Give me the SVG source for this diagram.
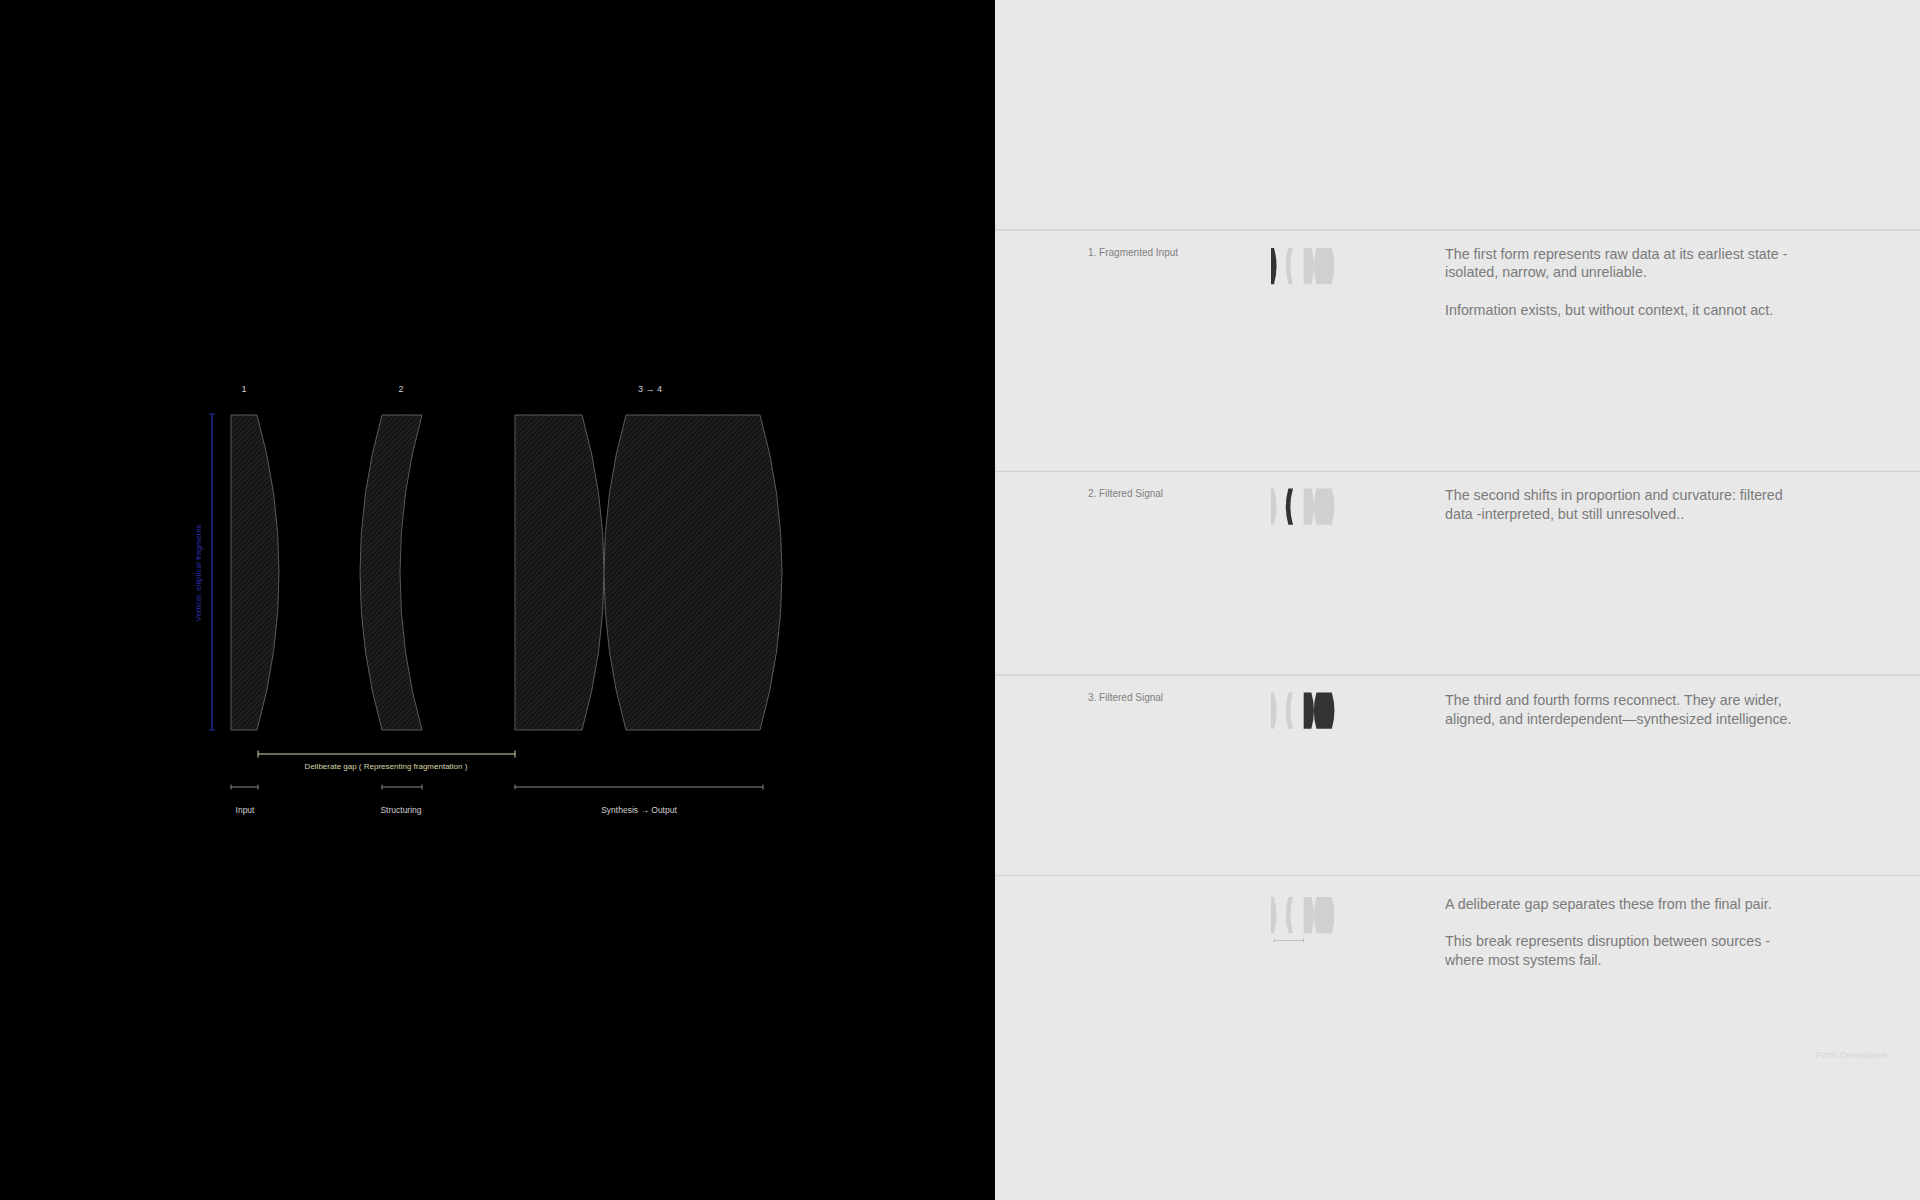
<svg xmlns="http://www.w3.org/2000/svg" width="1920" height="1200" viewBox="0 0 1920 1200">
<defs>
<pattern id="hatch" patternUnits="userSpaceOnUse" width="5" height="5">
<rect width="5" height="5" fill="#161616"/>
<path d="M-1,6 L6,-1 M-1,1 L1,-1 M4,6 L6,4" stroke="#2a2a2a" stroke-width="0.9"/>
</pattern>
<g id="forms">
<path id="f1" d="M231,415 L257,415 A575,575 0 0 1 257,730 L231,730 Z"/>
<path id="f2" d="M382,415 L422,415 A575,575 0 0 0 422,730 L382,730 A575,575 0 0 1 382,415 Z"/>
<path id="f3" d="M515,415 L582,415 A575,575 0 0 1 582,730 L515,730 Z"/>
<path id="f4" d="M626,415 L760,415 A575,575 0 0 1 760,730 L626,730 A575,575 0 0 1 626,415 Z"/>
</g>
</defs>
<style>
.big{fill:url(#hatch);stroke:#5a5a5a;stroke-width:1}
.num{font-family:"Liberation Sans",Arial,sans-serif;font-size:9px;fill:#cfcfcf;text-anchor:middle}
.lab{font-family:"Liberation Sans",Arial,sans-serif;font-size:8.5px;fill:#d0d0d0;text-anchor:middle}
.gap{font-family:"Liberation Sans",Arial,sans-serif;font-size:8px;fill:#d6d6a8;text-anchor:middle}
.blue{font-family:"Liberation Sans",Arial,sans-serif;font-size:8px;fill:#2f2fb0;text-anchor:middle}
.rowlab{font-family:"Liberation Sans",Arial,sans-serif;font-size:10px;fill:#808080}
.body{font-family:"Liberation Sans",Arial,sans-serif;font-size:14.3px;fill:#7a7a7a}
.sep{stroke:#d2d2d2;stroke-width:1.5}
.lt{fill:#d0d0d0}
.dk{fill:#333333}
.brk{stroke:#8a8a8a;stroke-width:1;fill:none}
</style>
<rect x="0" y="0" width="995" height="1200" fill="#000000"/>
<rect x="995" y="0" width="925" height="1200" fill="#e8e8e8"/>

<g id="node-form1"><use href="#f1" class="big"/><text class="num" x="244" y="392">1</text></g>
<g id="node-form2"><use href="#f2" class="big"/><text class="num" x="401" y="392">2</text></g>
<g id="node-form34"><use href="#f3" class="big"/><use href="#f4" class="big"/><text class="num" x="650" y="392">3 → 4</text></g>

<g id="dimension-lines">
<path d="M212,414 L212,730 M209,414 L215,414 M209,730 L215,730" stroke="#2f2fb0" stroke-width="1.2" fill="none"/>
<text class="blue" transform="translate(201,573) rotate(-90)">Vertical, elliptical fragments</text>
<path d="M258,754 L515,754 M258,750.5 L258,757.5 M515,750.5 L515,757.5" stroke="#d6d6a8" stroke-width="1" fill="none"/>
<text class="gap" x="386" y="769">Deliberate gap ( Representing fragmentation )</text>
<path class="brk" d="M231,787 L258,787 M231,784.5 L231,789.5 M258,784.5 L258,789.5"/>
<path class="brk" d="M382,787 L422,787 M382,784.5 L382,789.5 M422,784.5 L422,789.5"/>
<path class="brk" d="M515,787 L763,787 M515,784.5 L515,789.5 M763,784.5 L763,789.5"/>
<text class="lab" x="245" y="813">Input</text>
<text class="lab" x="401" y="813">Structuring</text>
<text class="lab" x="639" y="813">Synthesis → Output</text>
</g>

<g id="separators">
<line class="sep" x1="995" y1="230" x2="1920" y2="230"/>
<line class="sep" x1="995" y1="471.5" x2="1920" y2="471.5"/>
<line class="sep" x1="995" y1="675" x2="1920" y2="675"/>
<line class="sep" x1="995" y1="875.5" x2="1920" y2="875.5"/>
</g>

<g id="row1">
<text class="rowlab" x="1088" y="255.5">1. Fragmented Input</text>
<g transform="translate(1271,248) scale(0.115) translate(-231,-415)">
<use href="#f1" class="dk"/><use href="#f2" class="lt"/><use href="#f3" class="lt"/><use href="#f4" class="lt"/>
</g>
<text class="body" x="1445" y="258.5">The first form represents raw data at its earliest state -</text>
<text class="body" x="1445" y="277">isolated, narrow, and unreliable.</text>
<text class="body" x="1445" y="315">Information exists, but without context, it cannot act.</text>
</g>

<g id="row2">
<text class="rowlab" x="1088" y="496.5">2. Filtered Signal</text>
<g transform="translate(1271,488.5) scale(0.115) translate(-231,-415)">
<use href="#f1" class="lt"/><use href="#f2" class="dk"/><use href="#f3" class="lt"/><use href="#f4" class="lt"/>
</g>
<text class="body" x="1445" y="500">The second shifts in proportion and curvature: filtered</text>
<text class="body" x="1445" y="518.5">data -interpreted, but still unresolved..</text>
</g>

<g id="row3">
<text class="rowlab" x="1088" y="700.5">3. Filtered Signal</text>
<g transform="translate(1271,692.5) scale(0.115) translate(-231,-415)">
<use href="#f1" class="lt"/><use href="#f2" class="lt"/><use href="#f3" class="dk"/><use href="#f4" class="dk"/>
</g>
<text class="body" x="1445" y="705">The third and fourth forms reconnect. They are wider,</text>
<text class="body" x="1445" y="724">aligned, and interdependent—synthesized intelligence.</text>
</g>

<g id="row4">
<g transform="translate(1271,897) scale(0.115) translate(-231,-415)">
<use href="#f1" class="lt"/><use href="#f2" class="lt"/><use href="#f3" class="lt"/><use href="#f4" class="lt"/>
</g>
<path d="M1274,940.5 L1303.5,940.5 M1274,938.5 L1274,942.5 M1303.5,938.5 L1303.5,942.5" stroke="#b8b8b8" stroke-width="0.8" fill="none"/>
<text class="body" x="1445" y="908.5">A deliberate gap separates these from the final pair.</text>
<text class="body" x="1445" y="946">This break represents disruption between sources -</text>
<text class="body" x="1445" y="964.5">where most systems fail.</text>
</g>

<text x="1815" y="1058" font-family="'Liberation Sans',Arial,sans-serif" font-size="9.5" fill="#d6d6d6">Form Derivations</text>
</svg>
